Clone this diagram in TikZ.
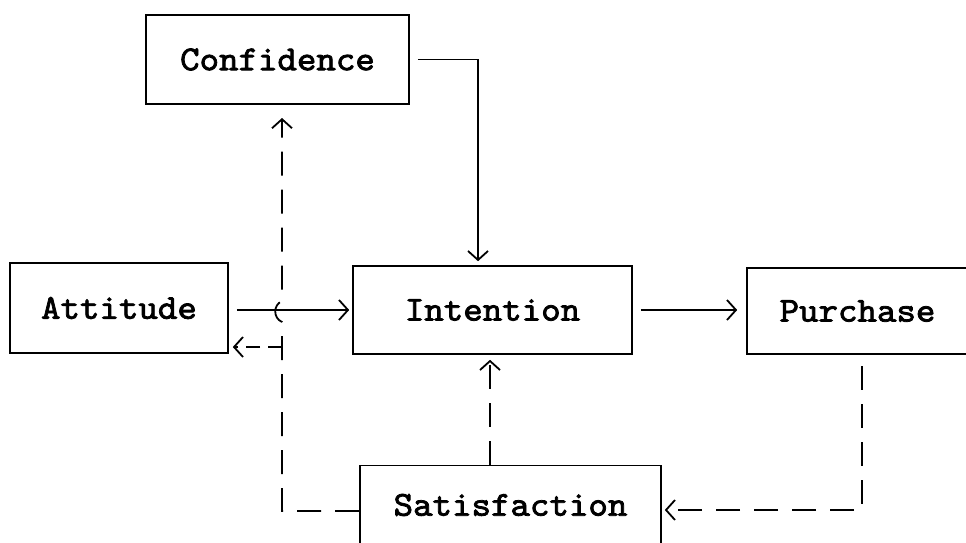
\documentclass[tikz,border=0pt]{standalone}
\usepackage{fontspec}
\newfontfamily\typew{lmmono10-regular.otf}[FakeBold=2.2, FakeStretch=1.06]
\usetikzlibrary{arrows.meta}
\tikzset{
  box/.style={draw, line width=1.6pt, inner sep=0pt, font=\fontsize{35}{40}\selectfont\typew},
  conn/.style={line width=1.8pt, -{Straight Barb[length=9pt,width=20pt,line width=1.8pt]}},
  dconn/.style={conn, dash pattern=on 24pt off 14pt},
}
\begin{document}
\begin{tikzpicture}[x=1pt,y=-1pt]
\useasboundingbox (0,0) rectangle (966,543);
\clip (0,0) rectangle (966,543);
\fill[white] (0,0) rectangle (966,543);
% boxes
\node[box, minimum width=263pt, minimum height=89pt] (conf) at (277.5,59.5) {Confidence};
\node[box, minimum width=218pt, minimum height=90pt] (att) at (119,308) {Attitude};
\node[box, minimum width=279pt, minimum height=88pt] (int) at (492.5,310) {Intention};
\node[box, minimum width=221pt, minimum height=86pt] (pur) at (857.5,311) {Purchase};
\node[box, minimum width=301pt, minimum height=79pt] (sat) at (510.5,505) {Satisfaction};
% helper coordinates
\coordinate (cx) at (478,0);
\coordinate (sx) at (490,0);
\coordinate (pd) at (862,366);
\coordinate (pc) at (862,510);
\coordinate (sl) at (282,511);
\coordinate (hopA) at (282,322);
\coordinate (hopB) at (282,301);
\coordinate (ctip) at (282,118);
\coordinate (br) at (282,347);
% solid connectors
\draw[conn] ([xshift=8pt]conf.east) -| ([yshift=4pt]int.north -| cx);
\draw[conn] ([xshift=8pt]att.east |- int.west) -- ([xshift=-3pt]int.west);
\draw[conn] ([xshift=8pt]int.east) -- ([xshift=-9pt]pur.west |- int.east);
% dashed connectors
\draw[dconn] (pd) -- (pc) -- ([xshift=3pt]pc -| sat.east);
\draw[dconn] (sat.north -| sx) -- ([yshift=-5pt]int.south -| sx);
\draw[dconn] (sat.west |- sl) -- (sl) -- (hopA) .. controls (273,318) and (273,305) .. (hopB) -- (ctip);
\draw[dconn, dash pattern=on 14pt off 8pt] (br) -- ([xshift=4pt]att.east |- br);
\end{tikzpicture}
\end{document}
